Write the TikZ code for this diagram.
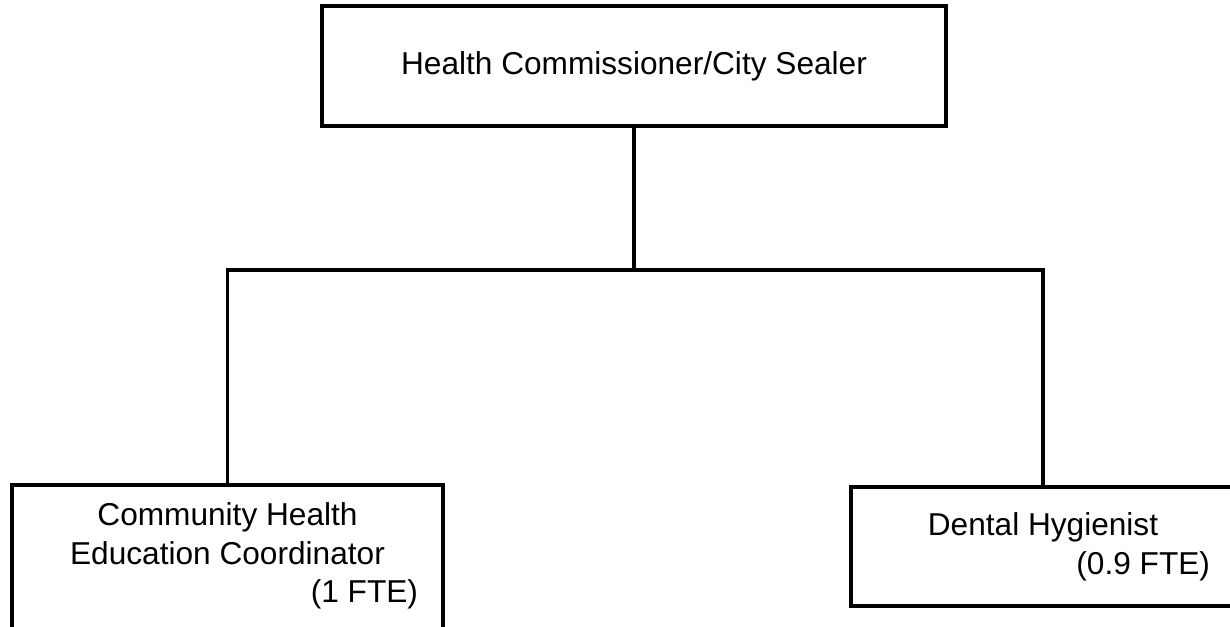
\documentclass[tikz,border=0pt]{standalone}
\usepackage{fontspec}
\setmainfont{Liberation Sans}
\tikzset{post/.style = {shape=rectangle, draw, line width=1.9pt, align=flush center, inner sep=0pt}}
\tikzset{txt/.style = {align=flush center, inner sep=0pt}}
\tikzset{wire/.style = {line width=1.9pt}}

\begin{document}
\begin{tikzpicture}[
			every node/.style = {font=\fontsize{18}{22}\selectfont}
		]
		\clip (0,0) rectangle (24.6,-12.54);
		% Nodes
		\node[post, minimum width=12.48cm, minimum height=2.4cm] (top) at (12.68,-1.32) {Health Commissioner/City Sealer};
		\node[post, minimum width=8.62cm, minimum height=4cm]   (lbox) at ( 4.55,-11.70) {};
		\node[txt, text width=7.62cm]                          (ltxt) at ( 4.55,-11.12) {Community Health\\Education Coordinator\\\hspace{0pt plus 1filll}(1 FTE)};
		\node[post, minimum width=7.68cm, minimum height=2.38cm, text width=6.68cm] (rbox) at (20.86,-10.93) {Dental Hygienist\\\hspace{0pt plus 1filll}(0.9 FTE)};
		\coordinate (bar) at (12.68,-5.40);
		% Lines
		\draw[wire] (top) -- (bar);
		\foreach \from/\to in {lbox/bar, rbox/bar}
			\draw[wire] (\from) |- (\to);
		\end{tikzpicture}
\end{document}
